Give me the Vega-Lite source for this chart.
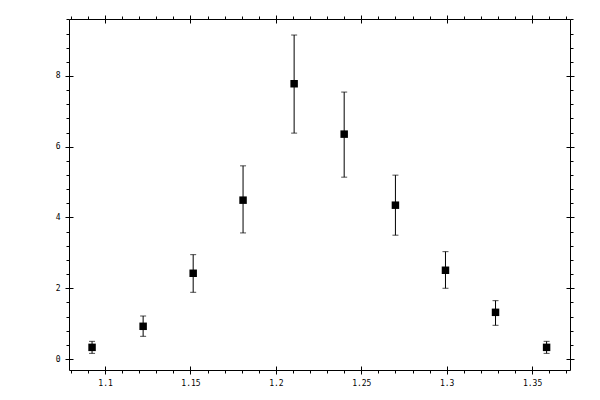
{
  "$schema": "https://vega.github.io/schema/vega-lite/v6.json",
  "autosize": "none",
  "padding": {"left": 69, "top": 19, "right": 30, "bottom": 30},
  "width": 501,
  "height": 351,
  "data": {
    "values": [
      {"x": 1.0924, "y": 0.33, "lo": 0.16, "hi": 0.50},
      {"x": 1.1223, "y": 0.925, "lo": 0.642, "hi": 1.216},
      {"x": 1.1516, "y": 2.424, "lo": 1.886, "hi": 2.95},
      {"x": 1.1808, "y": 4.49, "lo": 3.564, "hi": 5.46},
      {"x": 1.2107, "y": 7.78, "lo": 6.385, "hi": 9.157},
      {"x": 1.2400, "y": 6.356, "lo": 5.14, "hi": 7.545},
      {"x": 1.2700, "y": 4.348, "lo": 3.50, "hi": 5.197},
      {"x": 1.2993, "y": 2.509, "lo": 2.0, "hi": 3.035},
      {"x": 1.3286, "y": 1.32, "lo": 0.953, "hi": 1.65},
      {"x": 1.3585, "y": 0.33, "lo": 0.16, "hi": 0.50}
    ]
  },
  "layer": [
    {
      "mark": {"type": "errorbar", "ticks": {"size": 6, "thickness": 1, "color": "black"}, "thickness": 1, "color": "black"},
      "encoding": {
        "x": {"field": "x", "type": "quantitative", "axis": null,
              "scale": {"domain": [1.0789, 1.3722], "nice": false, "zero": false}},
        "y": {"field": "lo", "type": "quantitative", "axis": null,
              "scale": {"domain": [-0.31, 9.61], "nice": false, "zero": false}},
        "y2": {"field": "hi"}
      }
    },
    {
      "mark": {"type": "point", "shape": "square", "filled": true, "size": 56, "color": "black", "opacity": 1},
      "encoding": {
        "x": {"field": "x", "type": "quantitative",
              "scale": {"domain": [1.0789, 1.3722], "nice": false, "zero": false},
              "axis": {"orient": "bottom", "values": [1.1, 1.15, 1.2, 1.25, 1.3, 1.35], "tickSize": 4, "labelPadding": 5, "format": "~g"}},
        "y": {"field": "y", "type": "quantitative",
              "scale": {"domain": [-0.31, 9.61], "nice": false, "zero": false},
              "axis": {"orient": "left", "values": [0, 2, 4, 6, 8], "tickSize": 4, "labelPadding": 5, "format": "~g"}}
      }
    },
    {
      "mark": {"type": "point", "opacity": 0},
      "encoding": {
        "x": {"field": "x", "type": "quantitative",
              "axis": {"orient": "bottom", "values": [1.1, 1.15, 1.2, 1.25, 1.3, 1.35], "tickSize": 4, "offset": -4, "labels": false}},
        "y": {"field": "y", "type": "quantitative",
              "axis": {"orient": "left", "values": [0, 2, 4, 6, 8], "tickSize": 4, "offset": -4, "labels": false}}
      }
    },
    {
      "mark": {"type": "point", "opacity": 0},
      "encoding": {
        "x": {"field": "x", "type": "quantitative",
              "axis": {"orient": "bottom", "values": [1.08, 1.09, 1.11, 1.12, 1.13, 1.14, 1.16, 1.17, 1.18, 1.19, 1.21, 1.22, 1.23, 1.24, 1.26, 1.27, 1.28, 1.29, 1.31, 1.32, 1.33, 1.34, 1.36, 1.37], "tickSize": 3, "labels": false}},
        "y": {"field": "y", "type": "quantitative",
              "axis": {"orient": "left", "values": [0.4, 0.8, 1.2, 1.6, 2.4, 2.8, 3.2, 3.6, 4.4, 4.8, 5.2, 5.6, 6.4, 6.8, 7.2, 7.6, 8.4, 8.8, 9.2, 9.6], "tickSize": 3, "labels": false}}
      }
    },
    {
      "mark": {"type": "point", "opacity": 0},
      "encoding": {
        "x": {"field": "x", "type": "quantitative",
              "axis": {"orient": "top", "values": [1.1, 1.15, 1.2, 1.25, 1.3, 1.35], "tickSize": 4, "labels": false}},
        "y": {"field": "y", "type": "quantitative",
              "axis": {"orient": "right", "values": [0, 2, 4, 6, 8], "tickSize": 4, "labels": false}}
      }
    },
    {
      "mark": {"type": "point", "opacity": 0},
      "encoding": {
        "x": {"field": "x", "type": "quantitative",
              "axis": {"orient": "top", "values": [1.1, 1.15, 1.2, 1.25, 1.3, 1.35], "tickSize": 4, "offset": -4, "labels": false}},
        "y": {"field": "y", "type": "quantitative",
              "axis": {"orient": "right", "values": [0, 2, 4, 6, 8], "tickSize": 4, "offset": -4, "labels": false}}
      }
    },
    {
      "mark": {"type": "point", "opacity": 0},
      "encoding": {
        "x": {"field": "x", "type": "quantitative",
              "axis": {"orient": "top", "values": [1.08, 1.09, 1.11, 1.12, 1.13, 1.14, 1.16, 1.17, 1.18, 1.19, 1.21, 1.22, 1.23, 1.24, 1.26, 1.27, 1.28, 1.29, 1.31, 1.32, 1.33, 1.34, 1.36, 1.37], "tickSize": 3, "labels": false}},
        "y": {"field": "y", "type": "quantitative",
              "axis": {"orient": "right", "values": [0.4, 0.8, 1.2, 1.6, 2.4, 2.8, 3.2, 3.6, 4.4, 4.8, 5.2, 5.6, 6.4, 6.8, 7.2, 7.6, 8.4, 8.8, 9.2, 9.6], "tickSize": 3, "labels": false}}
      }
    }
  ],
  "resolve": {"axis": {"x": "independent", "y": "independent"}},
  "config": {
    "view": {"stroke": "black", "strokeWidth": 1},
    "axis": {
      "title": null,
      "grid": false,
      "domain": false,
      "tickColor": "black",
      "tickWidth": 1,
      "labelColor": "black",
      "labelFont": "DejaVu Sans Mono",
      "labelFontSize": 8
    }
  }
}
